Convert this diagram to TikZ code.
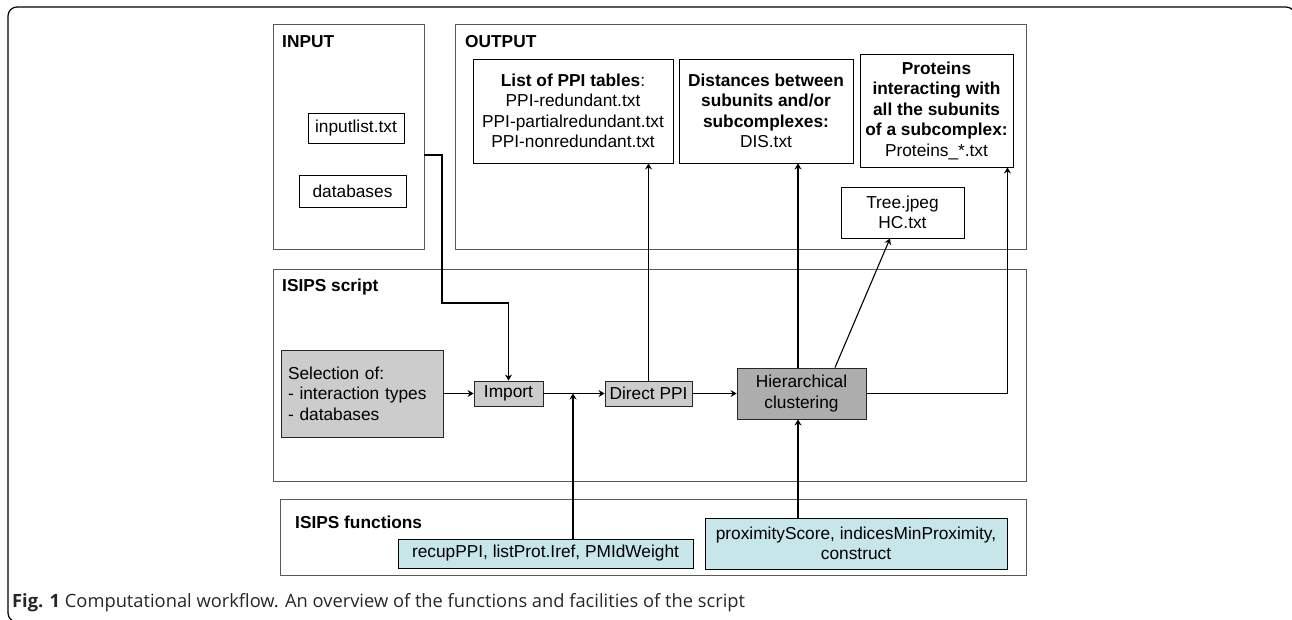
\documentclass[tikz,border=0pt]{standalone}
\usepackage{fontspec}
\setmainfont{Liberation Sans}
\newfontfamily\capfont{Open Sans}
\usetikzlibrary{arrows.meta,calc}
\definecolor{funccol}{HTML}{C6E6E9}
\tikzset{
  x=1pt,y=-1pt,
  every node/.style={font=\fontsize{17.3}{20.5}\selectfont, inner sep=0pt},
  container/.style={draw=black!65, line width=1pt},
  filebox/.style={draw=black, line width=0.9pt, align=center},
  procbox/.style={draw=black!85, line width=0.9pt, fill=black!20, align=center},
  hierbox/.style={draw=black!85, line width=0.9pt, fill=black!32, align=center},
  funcbox/.style={draw=black, line width=0.9pt, fill=funccol, align=center},
  lbl/.style={anchor=base west, font=\fontsize{17.3}{20.5}\selectfont\bfseries},
  arr/.style={line width=1.4pt, -{Stealth[length=6pt,width=7pt,inset=2pt]}},
}
\begin{document}
\begin{tikzpicture}
\useasboundingbox (0,0) rectangle (1292,620);
% outer frame
\draw[line width=1.2pt, rounded corners=9pt] (1295,40) -- (1295,7) -- (8,7) -- (8,622) -- (30,622);
% containers
\node[container, minimum width=151, minimum height=225] (inbox) at (348.5,137.5) {};
\node[lbl] (inlbl) at (282,47.5) {INPUT};
\node[container, minimum width=571, minimum height=225] (outbox) at (740.5,137.5) {};
\node[lbl] (outlbl) at (465,47.5) {OUTPUT};
\node[container, minimum width=753, minimum height=212] (scriptbox) at (649.5,375) {};
\node[lbl] (scriptlbl) at (282,291) {ISIPS script};
\node[container, minimum width=746, minimum height=76] (funcs) at (653,537) {};
\node[lbl] (funclbl) at (295,528) {ISIPS functions};
% input files
\node[filebox, minimum width=96, minimum height=30] (inlist) at (356,128) {inputlist.txt};
\node[filebox, minimum width=107, minimum height=32] (db) at (352.5,191) {databases};
% outputs
\node[filebox, minimum width=200, minimum height=104] (list) at (573,111)
  {\textbf{List of PPI tables}:\\PPI-redundant.txt\\PPI-partialredundant.txt\\PPI-nonredundant.txt};
\node[filebox, minimum width=174, minimum height=104] (dist) at (766,111)
  {\textbf{Distances between}\\\textbf{subunits and/or}\\\textbf{subcomplexes:}\\DIS.txt};
\node[filebox, minimum width=153, minimum height=113] (prot) at (936.5,110.5)
  {\textbf{Proteins}\\\textbf{interacting with}\\\textbf{all the subunits}\\\textbf{of a subcomplex:}\\Proteins\_*.txt};
\node[filebox, minimum width=123, minimum height=51] (tree) at (902.5,212.5) {Tree.jpeg\\HC.txt};
% script
\node[procbox, minimum width=162, minimum height=87, text width=148, inner xsep=7pt, align=left] (sel) at (362,393.5)
  {Selection of:\\- interaction types\\- databases};
\node[procbox, minimum width=69, minimum height=25] (imp) at (508.5,393.5) {Import};
\node[procbox, minimum width=87, minimum height=25] (dppi) at (648.5,393.5) {Direct PPI};
\node[hierbox, minimum width=129, minimum height=51] (hier) at (801.5,393.5) {Hierarchical\\clustering};
% functions
\node[funcbox, minimum width=295, minimum height=29] (recup) at (545.5,553.5) {recupPPI, listProt.Iref, PMIdWeight};
\node[funcbox, minimum width=302, minimum height=51] (prox) at (856,543.5) {proximityScore, indicesMinProximity,\\construct};
% caption
\node[anchor=base west, font=\capfont\fontsize{18.3}{21}\selectfont, text=black!85] (cap) at (12,607)
  {\textbf{Fig. 1} Computational workflow. An overview of the functions and facilities of the script};
% connectors
\coordinate (inexit) at (424,155);
\coordinate (join) at (573,393.5);
\coordinate (hn) at ([xshift=-3.5pt]hier.north);
\coordinate (hs) at ([xshift=-3.5pt]hier.south);
\coordinate (htr) at ([xshift=33.5pt]hier.north);
\coordinate (treein) at ([xshift=-12.5pt]tree.south);
\coordinate (protin) at ([xshift=-6pt]prot.south east);
\draw[arr] (inexit) -| (442,303) -| (imp.north);
\draw[arr] (sel.east) -- (imp.west);
\draw[arr] (imp.east) -- (dppi.west);
\draw[arr] (dppi.east) -- (hier.west);
\draw[arr] (recup.north -| join) -- (join);
\draw[arr] (dppi.north) -- (dppi.north |- list.south);
\draw[arr] (hn) -- (hn |- dist.south);
\draw[arr, line width=1.1pt] (htr) -- (treein);
\draw[arr] (hier.east) -| (protin);
\draw[arr] (prox.north -| hs) -- (hs);
\end{tikzpicture}
\end{document}
